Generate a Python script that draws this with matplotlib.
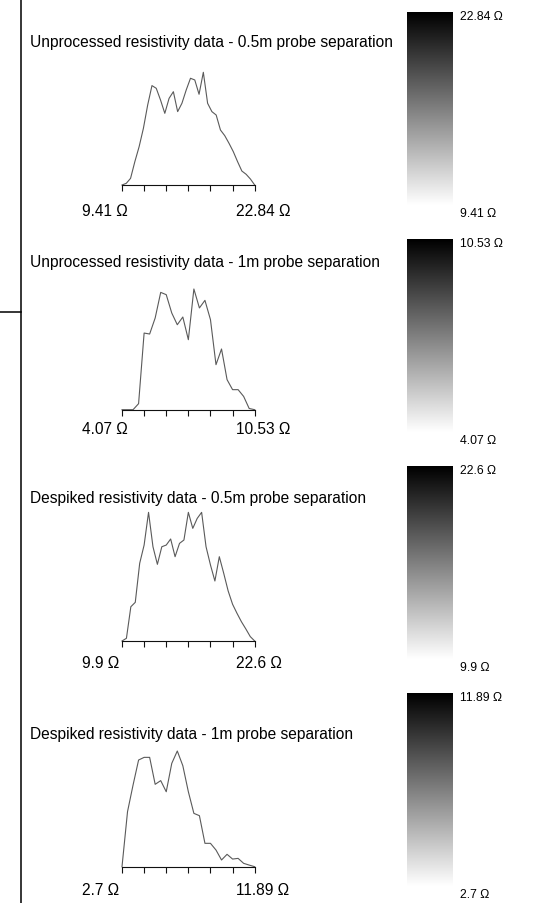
import numpy as np
import matplotlib.pyplot as plt
from matplotlib.lines import Line2D

plt.rcParams['font.family'] = ['Liberation Sans', 'DejaVu Sans']

titles = [
    'Unprocessed resistivity data - 0.5m probe separation',
    'Unprocessed resistivity data - 1m probe separation',
    'Despiked resistivity data - 0.5m probe separation',
    'Despiked resistivity data - 1m probe separation',
]
range_min = [9.41, 4.07, 9.9, 2.7]
range_max = [22.84, 10.53, 22.6, 11.89]
min_labels = ['9.41 Ω', '4.07 Ω', '9.9 Ω', '2.7 Ω']
max_labels = ['22.84 Ω', '10.53 Ω', '22.6 Ω', '11.89 Ω']

# relative frequency (peak = 100), evenly spaced from min to max
freq_unproc_05 = [0, 1.5, 5.9, 20.7, 34, 50.3, 71, 88.2, 85.8, 75.4, 63.6, 76.9,
                  82.8, 65.1, 72.5, 84.3, 94.7, 93.2, 80.5, 100, 72.5, 65.1, 62.1,
                  48.8, 43.8, 37, 29.6, 20.7, 12.4, 9.5, 5.3, 0]
freq_unproc_1 = [0, 0, 0, 5.0, 63.5, 62.7, 76, 97.2, 95.3, 80.1, 70.4, 76.8, 58.0,
                 100, 84.3, 90.6, 74.6, 37.3, 50.3, 24.9, 16.6, 16.6, 11.0, 1, 0]
freq_despiked_05 = [0, 2.1, 26.5, 29.9, 60.1, 74.2, 99.5, 72.9, 59.3, 72.9, 74.2,
                    78.9, 65.2, 75.5, 78.1, 99.5, 87.1, 94.8, 99.5, 72.9, 58.8, 46.4,
                    65.2, 52.3, 38.7, 28.4, 21.4, 14.9, 9.3, 3.4, 0]
freq_despiked_1 = [0, 47.6, 70.6, 92.2, 94.5, 94.5, 71.2, 74.4, 64.8, 89.3, 100,
                   87.3, 64.8, 46.1, 44.1, 20.2, 20.2, 14.4, 5.8, 10.7, 6.6, 7.2,
                   2.9, 1.4, 0]
freqs = [freq_unproc_05, freq_unproc_1, freq_despiked_05, freq_despiked_1]

W, H = 540, 904


def fx(px):
    return px / W


def fy(py):
    return 1 - py / H


def main():
    fig = plt.figure(figsize=(W / 100, H / 100), dpi=100)

    # frame line on the left
    fig.add_artist(Line2D([fx(21), fx(21)], [0, 1], color='black', lw=1.1))
    fig.add_artist(Line2D([0, fx(21)], [fy(313), fy(313)], color='black', lw=1.1))

    baselines = [186, 410.7, 642, 867.7]
    heights = [112.7, 120.7, 129.3, 115.7]
    title_y = [43, 263, 499, 735]
    label_y = [211, 430, 664, 891]
    bar_top = [12.7, 239.8, 466.9, 694]
    bar_h = 193

    for i in range(4):
        lo, hi = range_min[i], range_max[i]
        y = np.array(freqs[i])
        x = np.linspace(lo, hi, len(y))

        ax = fig.add_axes([fx(122), fy(baselines[i]), fx(254.7) - fx(122), heights[i] / H])
        ax.plot(x, y, color='#5a5a5a', lw=0.8, clip_on=False)
        ax.set_xlim(lo, hi)
        ax.set_ylim(0, 100)
        for s in ['top', 'right', 'left']:
            ax.spines[s].set_visible(False)
        ax.spines['bottom'].set_color('#111111')
        ax.spines['bottom'].set_linewidth(0.8)
        ax.set_yticks([])
        ax.set_xticks(np.linspace(lo, hi, 7))
        ax.set_xticklabels([])
        ax.tick_params(axis='x', direction='out', length=4.5, width=0.8, color='#111111')
        ax.patch.set_alpha(0)

        fig.text(fx(30), fy(title_y[i]), titles[i], fontsize=11.2, va='center', ha='left')
        fig.text(fx(82), fy(label_y[i]), min_labels[i], fontsize=11.2, va='center', ha='left')
        fig.text(fx(236), fy(label_y[i]), max_labels[i], fontsize=11.2, va='center', ha='left')

        # grey colour ramp
        cax = fig.add_axes([fx(407), fy(bar_top[i] + bar_h), fx(453) - fx(407), bar_h / H])
        ramp = np.linspace(lo, hi, 256).reshape(-1, 1)
        cax.imshow(ramp, cmap='gray_r', origin='lower', aspect='auto',
                   extent=[0, 1, lo, hi], vmin=lo, vmax=hi)
        cax.axis('off')
        fig.text(fx(460), fy(bar_top[i] + 4), max_labels[i], fontsize=8.8, va='center', ha='left')
        fig.text(fx(460), fy(bar_top[i] + bar_h + 8), min_labels[i], fontsize=8.8,
                 va='center', ha='left')

    fig.savefig('out.png', dpi=100)


if __name__ == "__main__":
    main()
